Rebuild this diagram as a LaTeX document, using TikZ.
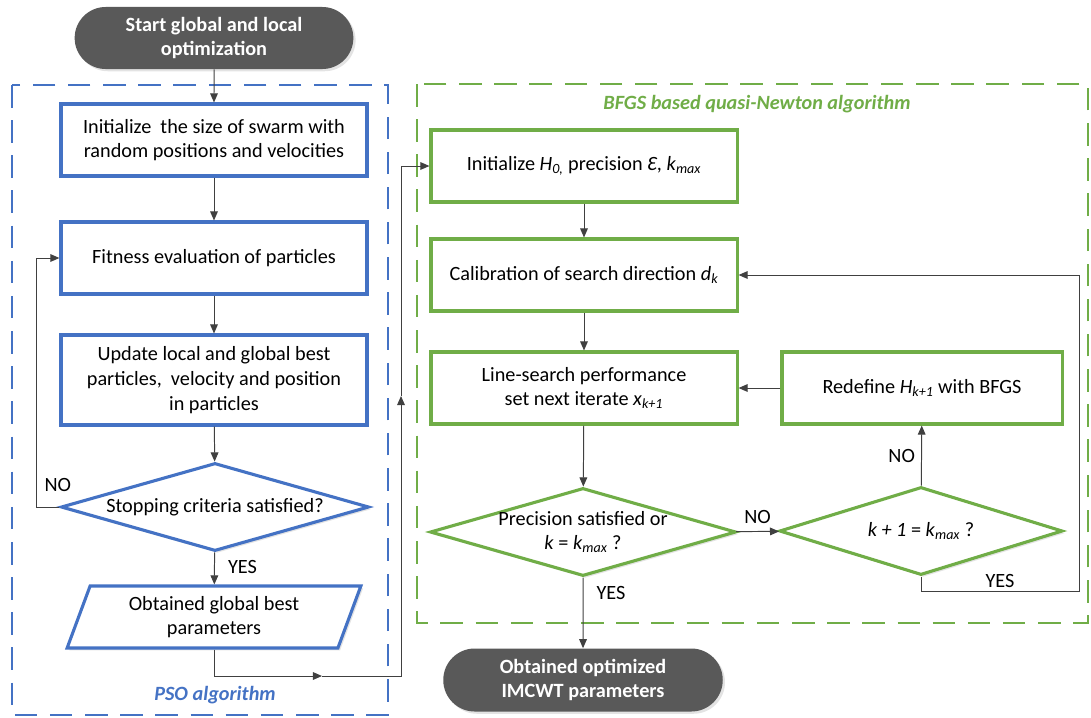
\documentclass[tikz,border=0pt]{standalone}
\usepackage{fontspec}
\setmainfont{Carlito}
\usetikzlibrary{shapes,arrows,arrows.meta,positioning,calc,shadows}

\definecolor{psoblue}{HTML}{4472C4}
\definecolor{bfgsgreen}{HTML}{70AD47}
\definecolor{termgray}{HTML}{595959}
\definecolor{flowgray}{HTML}{404040}

\newcommand{\low}[1]{\textsubscript{\itshape #1}}

\begin{document}
\begin{tikzpicture}[x=0.025cm, y=-0.025cm, >={Triangle[length=6.5pt,width=5.5pt]},
    font=\fontsize{14.4}{17.5}\selectfont,
    softshadow/.style={drop shadow={opacity=0.22, shadow xshift=1.6pt, shadow yshift=-1.6pt}},
    terminal/.style={rounded rectangle, fill=termgray, text=white, align=center, font=\fontsize{14.4}{17.5}\selectfont\bfseries, softshadow},
    psobox/.style={draw=psoblue, line width=2.2pt, fill=white, align=center, minimum width=7.65cm, minimum height=1.8cm, softshadow},
    bfgsbox/.style={draw=bfgsgreen, line width=2.2pt, fill=white, align=center, minimum width=7.65cm, minimum height=1.8cm, softshadow},
    psodec/.style={diamond, draw=psoblue, line width=2.2pt, fill=white, align=center, inner sep=-3pt, shape aspect=3.4, minimum width=7.7cm, minimum height=2.2cm, softshadow},
    bfgsdec/.style={diamond, draw=bfgsgreen, line width=2.2pt, fill=white, align=center, inner sep=-3pt, shape aspect=3.4, minimum width=7.65cm, minimum height=2.2cm, softshadow},
    psoio/.style={trapezium, trapezium left angle=72, trapezium right angle=108, trapezium stretches=true, draw=psoblue, line width=2.2pt, fill=white, align=center, minimum width=7.35cm, minimum height=1.55cm, softshadow},
    flow/.style={->, draw=flowgray, line width=0.7pt},
    frame/.style={line width=2pt, dash pattern=on 16pt off 9pt},
    framelabel/.style={font=\fontsize{14.4}{17.5}\selectfont\bfseries\itshape}
]
\useasboundingbox (0,0) rectangle (1091,717);

\draw[frame, draw=psoblue] (12,85) rectangle (388,715);
\draw[frame, draw=bfgsgreen] (417,84) rectangle (1088,623);
\node (psolabel) [framelabel, text=psoblue] at (215,695) {PSO algorithm};
\node (bfgslabel) [framelabel, text=bfgsgreen] at (757,104) {BFGS based quasi-Newton algorithm};

\node (start) [terminal, minimum width=7.2cm, minimum height=1.55cm] at (214,38) {Start global and local\\optimization};

\node (swarm) [psobox] at (214,140) {Initialize\ \ the size of swarm with\\random positions and velocities};
\node (fitness) [psobox] at (214,258) {Fitness evaluation of particles};
\node (update) [psobox, minimum height=2.25cm] at (214,380) {Update local and global best\\particles,\ \ velocity and position\\in particles};
\node (stop) [psodec] at (215,507) {Stopping criteria satisfied?};
\node (gbest) [psoio] at (214,617) {Obtained global best\\parameters};

\node (init) [bfgsbox] at (584,166) {Initialize \textit{H}\low{0,} precision \textit{Ɛ}, \textit{k}\low{max}};
\node (calib) [bfgsbox] at (584,275) {Calibration of search direction \textit{d}\low{k}};
\node (lsearch) [bfgsbox] at (584,388) {Line-search performance\\set next iterate \textit{x}\low{k+1}};
\node (redef) [bfgsbox, minimum width=7cm] at (922,388) {Redefine \textit{H}\low{k+1} with BFGS};
\node (prec) [bfgsdec] at (583,532) {Precision satisfied or\\\textit{k} = \textit{k}\low{max} ?};
\node (kcheck) [bfgsdec, minimum width=7.08cm] at (921,531) {\textit{k + 1} = \textit{k}\low{max} ?};

\node (final) [terminal, minimum width=7.22cm, minimum height=1.575cm] at (583,680) {Obtained optimized\\IMCWT parameters};

\coordinate (noloop) at (36,507);
\coordinate (midh) at (322,676);
\coordinate (cross) at (401,676);
\coordinate (midv) at (401,396);
\coordinate (yesloop) at (1079,591);

\draw[flow] (start) -- (swarm);
\draw[flow] (swarm) -- (fitness);
\draw[flow] (fitness) -- (update);
\draw[flow] (update) -- (stop);
\draw[flow] (stop) -- node[right=6pt, pos=0.45] {YES} (gbest);
\draw[flow] (stop.west) -- node[pos=0, above left=7pt and -12pt] {NO} (noloop) |- (fitness.west);

\draw[flow] (gbest.south) |- (midh);
\draw[flow] (midh) -- (cross) -- (midv);
\draw[flow] (midv) |- (init.west);

\draw[flow] (init) -- (calib);
\draw[flow] (calib) -- (lsearch);
\draw[flow] (lsearch) -- (prec);
\draw[flow] (prec) -- node[above=2pt] {NO} (kcheck);
\draw[flow] (kcheck) -- node[left=1pt] {NO} (redef);
\draw[flow] (redef) -- (lsearch);
\draw[flow] (kcheck.south) |- node[pos=0.75, above=-1pt] {YES} (yesloop) |- (calib.east);
\draw[flow] (prec) -- node[right=6pt, pos=0.22] {YES} (final);
\end{tikzpicture}
\end{document}
